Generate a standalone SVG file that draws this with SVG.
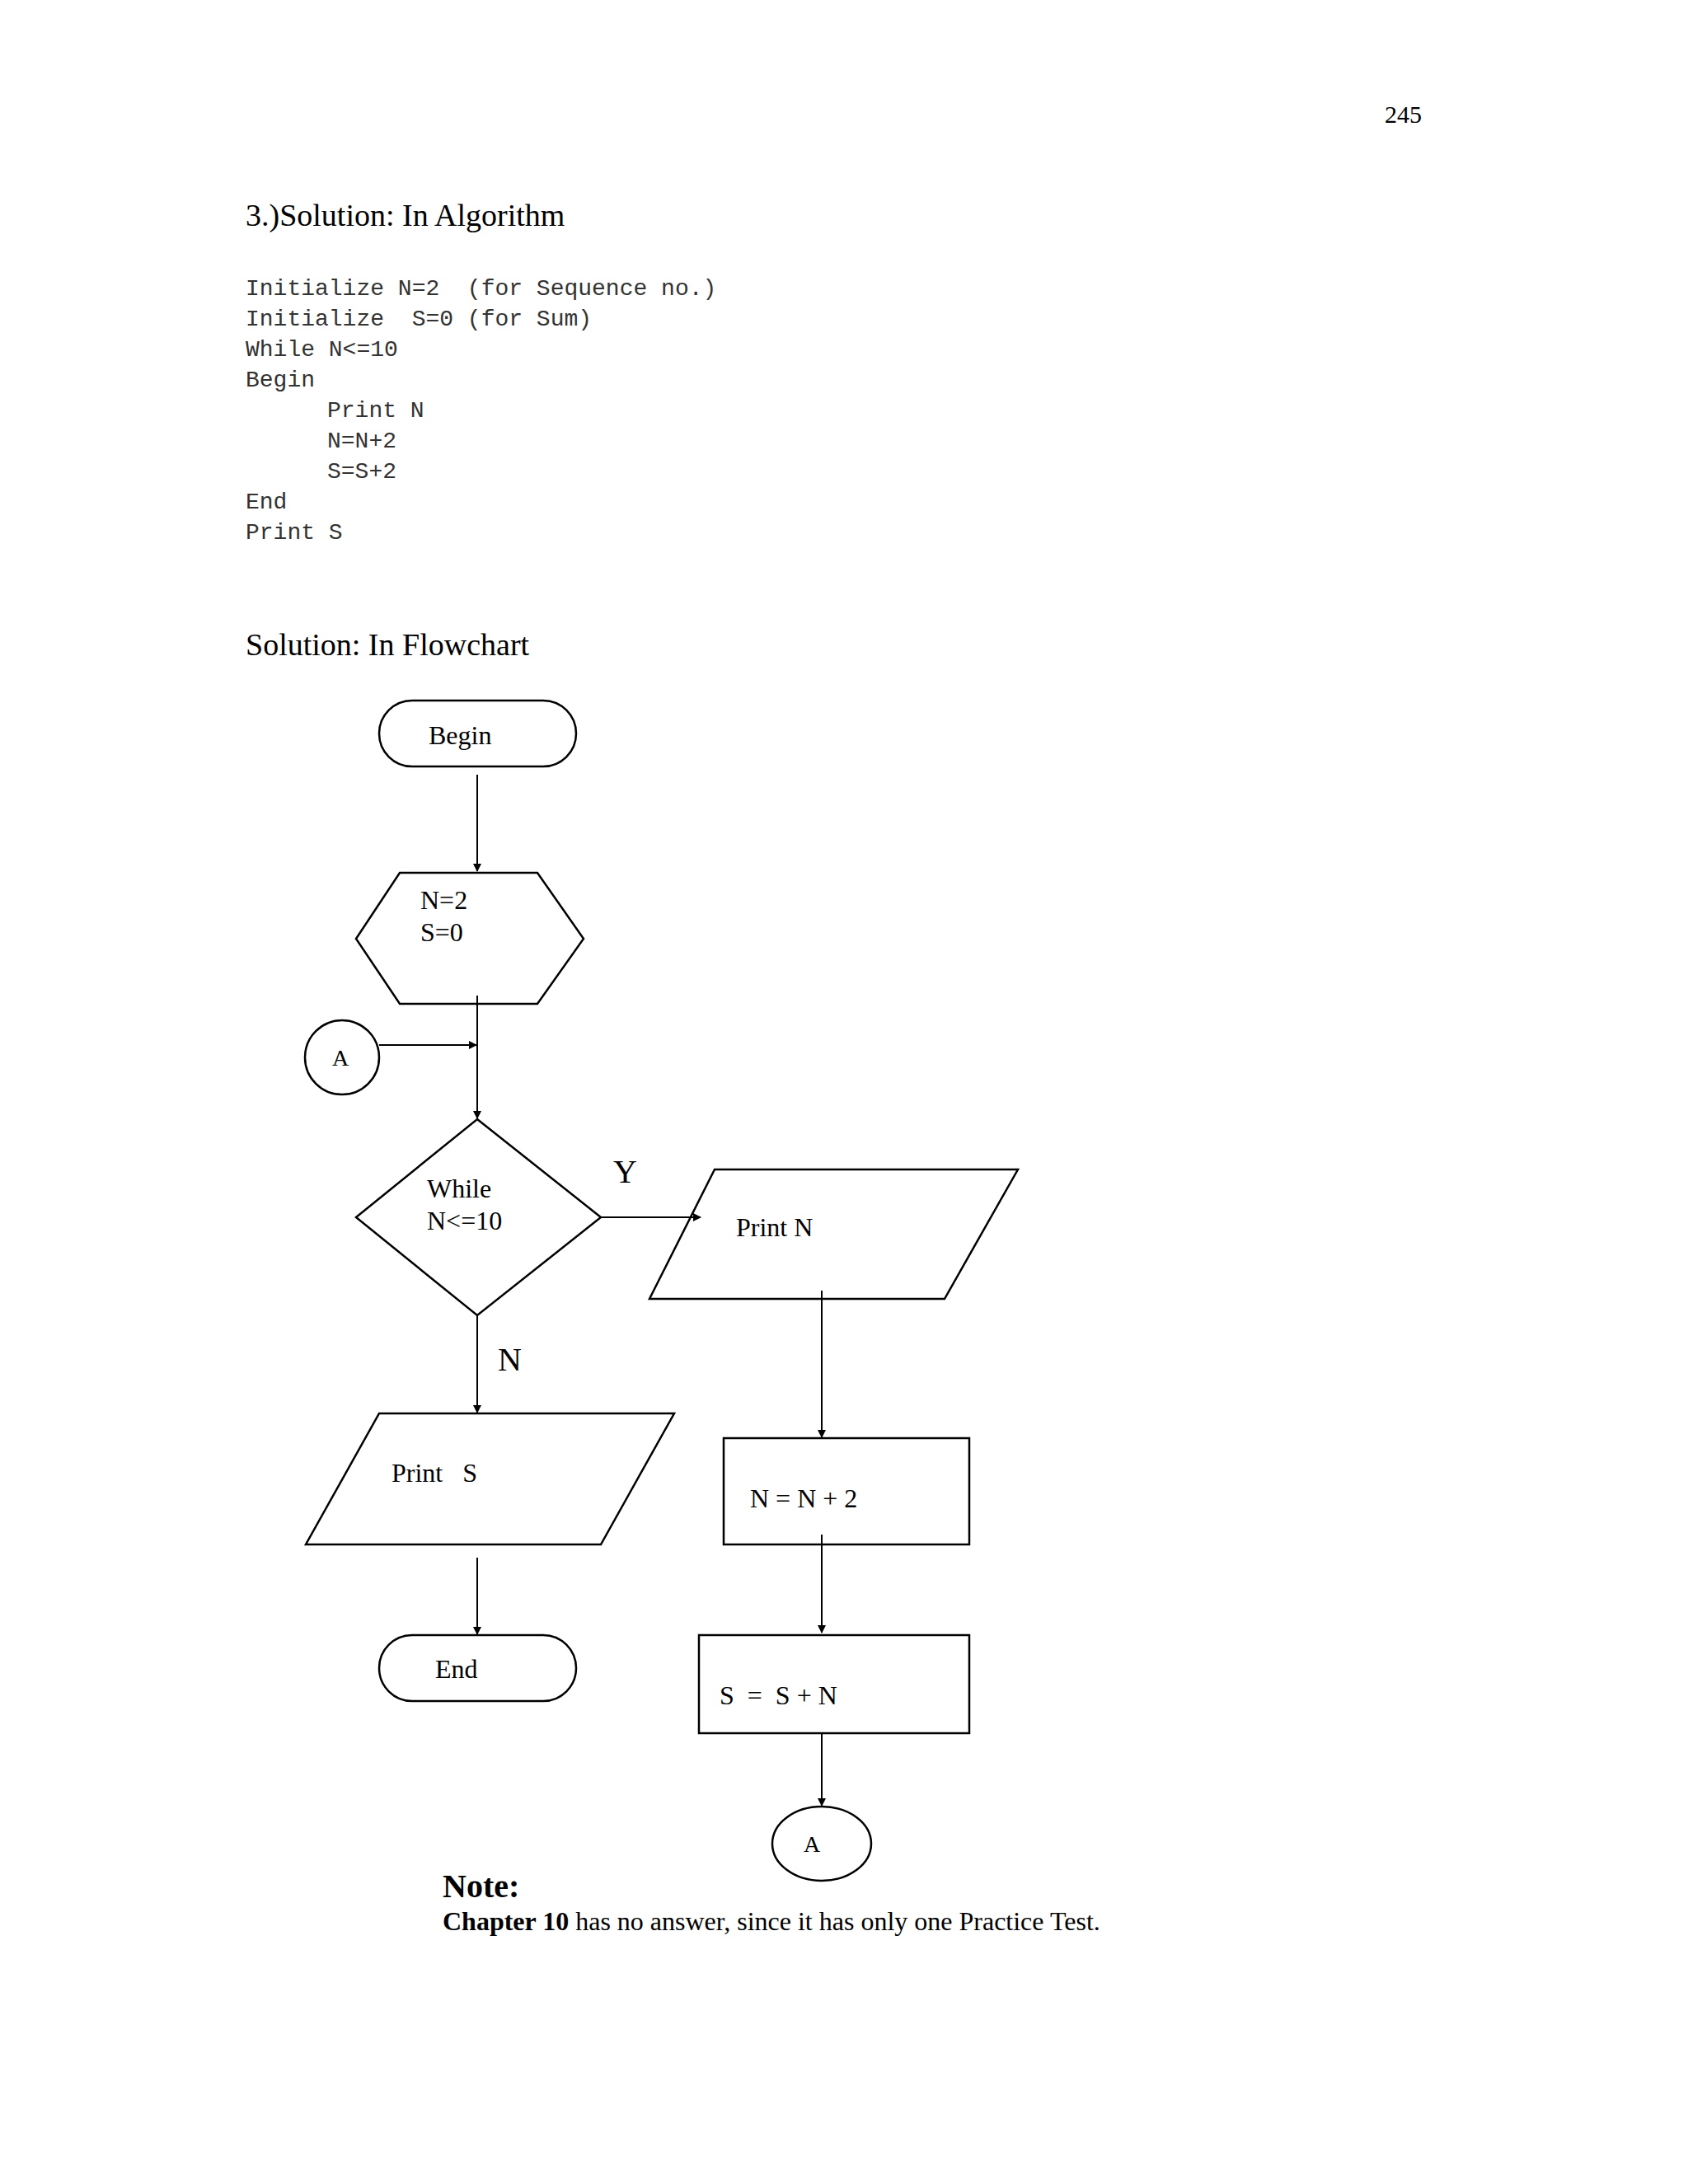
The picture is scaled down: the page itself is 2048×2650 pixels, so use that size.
<svg xmlns="http://www.w3.org/2000/svg" width="2048" height="2650" viewBox="0 0 2048 2650">
<style>
.t{font-family:"Liberation Serif",serif;fill:#000}
.m{font-family:"Liberation Mono",monospace;font-size:28px;fill:#333}
.s{fill:#fff;stroke:#000;stroke-width:2.5}
.c{stroke:#000;stroke-width:2;fill:none}
</style>
<defs><marker id="ah" markerWidth="10" markerHeight="10" refX="9" refY="5" orient="auto" markerUnits="userSpaceOnUse" viewBox="0 0 10 10"><path d="M0,0 L10,5 L0,10 z" fill="#000"/></marker></defs>
<rect width="2048" height="2650" fill="#fff"/>
<text class="t" x="1680" y="149" font-size="30">245</text>
<text class="t" x="298" y="274" font-size="38">3.)Solution: In Algorithm</text>
<g class="m">
<text x="298" y="358" xml:space="preserve">Initialize N=2  (for Sequence no.)</text>
<text x="298" y="395" xml:space="preserve">Initialize  S=0 (for Sum)</text>
<text x="298" y="432">While N&lt;=10</text>
<text x="298" y="469">Begin</text>
<text x="397" y="506">Print N</text>
<text x="397" y="543">N=N+2</text>
<text x="397" y="580">S=S+2</text>
<text x="298" y="617">End</text>
<text x="298" y="654">Print S</text>
</g>
<text class="t" x="298" y="795" font-size="38">Solution: In Flowchart</text>
<g id="begin"><rect class="s" x="460" y="850" width="239" height="80" rx="40"/><text class="t" x="520" y="903" font-size="32">Begin</text></g>
<g id="init"><polygon class="s" points="432,1139 485,1059 652,1059 708,1139 652,1218 485,1218"/><text class="t" x="510" y="1103" font-size="32">N=2</text><text class="t" x="510" y="1142" font-size="32">S=0</text></g>
<g id="a1"><circle class="s" cx="415" cy="1283" r="45"/><text class="t" x="403" y="1293" font-size="28">A</text></g>
<g id="while"><polygon class="s" points="579,1358 729,1477 579,1596 432,1477"/><text class="t" x="518" y="1453" font-size="32">While</text><text class="t" x="518" y="1492" font-size="32">N&lt;=10</text></g>
<g id="printn"><polygon class="s" points="867,1419 1235,1419 1146,1576 788,1576"/><text class="t" x="893" y="1500" font-size="32">Print N</text></g>
<g id="prints"><polygon class="s" points="460,1715 818,1715 729,1874 371,1874"/><text class="t" x="475" y="1798" font-size="32" xml:space="preserve">Print   S</text></g>
<g id="end"><rect class="s" x="460" y="1984" width="239" height="80" rx="40"/><text class="t" x="528" y="2036" font-size="32">End</text></g>
<g id="nn2"><rect class="s" x="878" y="1745" width="298" height="129"/><text class="t" x="910" y="1829" font-size="32">N = N + 2</text></g>
<g id="ssn"><rect class="s" x="848" y="1984" width="328" height="119"/><text class="t" x="873" y="2068" font-size="32" xml:space="preserve">S  =  S + N</text></g>
<g id="a2"><ellipse class="s" cx="997" cy="2237" rx="60" ry="45"/><text class="t" x="975" y="2247" font-size="28">A</text></g>
<g id="connectors">
<line class="c" x1="579" y1="940" x2="579" y2="1057" marker-end="url(#ah)"/>
<line class="c" x1="579" y1="1208" x2="579" y2="1357" marker-end="url(#ah)"/>
<line class="c" x1="460" y1="1268" x2="578" y2="1268" marker-end="url(#ah)"/>
<line class="c" x1="729" y1="1477" x2="850" y2="1477" marker-end="url(#ah)"/>
<line class="c" x1="579" y1="1596" x2="579" y2="1714" marker-end="url(#ah)"/>
<line class="c" x1="997" y1="1566" x2="997" y2="1744" marker-end="url(#ah)"/>
<line class="c" x1="579" y1="1890" x2="579" y2="1983" marker-end="url(#ah)"/>
<line class="c" x1="997" y1="1862" x2="997" y2="1981" marker-end="url(#ah)"/>
<line class="c" x1="997" y1="2103" x2="997" y2="2191" marker-end="url(#ah)"/>
<text class="t" x="744" y="1435" font-size="40">Y</text>
<text class="t" x="604" y="1663" font-size="40">N</text>
</g>
<text class="t" x="537" y="2302" font-size="40" font-weight="bold">Note:</text>
<text class="t" x="537" y="2342" font-size="32"><tspan font-weight="bold">Chapter 10</tspan> has no answer, since it has only one Practice Test.</text>
</svg>
